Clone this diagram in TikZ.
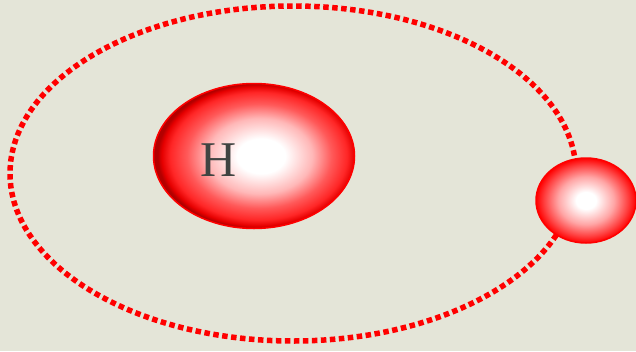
\documentclass[tikz,border=0pt]{standalone}
\usepackage{fontspec}
\setmainfont{Liberation Serif}
\usetikzlibrary{shapes.geometric}
\definecolor{bg}{RGB}{228,229,216}
\definecolor{hgray}{RGB}{64,68,66}
\pgfdeclareradialshading{bigball}{\pgfpoint{2bp}{0bp}}{%
  color(0bp)=(white); color(6bp)=(white); color(13bp)=(red!28!white);
  color(18bp)=(red!65!white); color(22bp)=(red!85!white);
  color(24bp)=(red!90!black); color(25bp)=(red!70!black); color(50bp)=(red!70!black)}
\pgfdeclareradialshading{smallball}{\pgfpoint{0bp}{0bp}}{%
  color(0bp)=(white); color(5bp)=(white); color(14bp)=(red!35!white);
  color(21bp)=(red!75!white); color(25bp)=(red); color(50bp)=(red)}
\tikzset{
  orbit/.style={ellipse, draw=red, line width=5.5pt, dash pattern=on 5.5pt off 3.5pt,
    inner sep=0pt, outer sep=0pt, minimum width=566pt, minimum height=335pt},
  atom/.style={ellipse, draw=red, line width=1.5pt, inner sep=0pt, outer sep=0pt,
    shade, shading=bigball, minimum width=201pt, minimum height=145pt},
  electron/.style={ellipse, draw=red, line width=1.5pt, inner sep=0pt, outer sep=0pt,
    shade, shading=smallball, minimum width=100pt, minimum height=85pt},
  label/.style={text=hgray, font=\fontsize{50}{50}\selectfont, inner sep=0pt}
}
\begin{document}
\begin{tikzpicture}[x=1pt,y=-1pt]
  \fill[bg] (0,0) rectangle (636,351);
  \useasboundingbox (0,0) rectangle (636,351);
  \node[orbit] (orbit) at (293,173.5) {};
  \node[atom] (nucleus) at (254,156) {};
  \node[label] (H) at (219,160) {H};
  \node[electron] (electron) at (586,200.5) {};
\end{tikzpicture}
\end{document}
